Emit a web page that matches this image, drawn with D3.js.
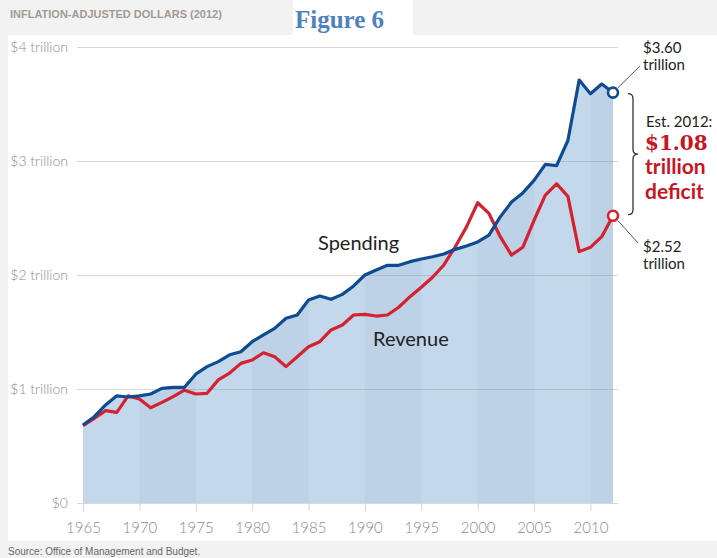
<!DOCTYPE html>
<html>
<head>
<meta charset="utf-8">
<script src="https://cdn.jsdelivr.net/npm/d3@7"></script>
<style>
  body { margin: 0; background: #f2f2f2; }
  svg { display: block; }
</style>
</head>
<body>
<div class="canvas"></div>
<script>
// values, trillions of 2012 dollars
const years = d3.range(1965, 2013)

const spending = [
  0.684, 0.757, 0.86, 0.94, 0.93, 0.94, 0.956, 1.006, 1.015, 1.015,
  1.13, 1.196, 1.24, 1.30, 1.327, 1.415, 1.474, 1.532, 1.62, 1.649,
  1.78, 1.816, 1.787, 1.83, 1.904, 2.0, 2.044, 2.085, 2.085, 2.117,
  2.14, 2.16, 2.184, 2.225, 2.254, 2.29, 2.35, 2.51, 2.64, 2.72,
  2.83, 2.97, 2.96, 3.18, 3.71, 3.59, 3.675, 3.60
]

const revenue = [
  0.678, 0.743, 0.81, 0.795, 0.94, 0.912, 0.836, 0.883, 0.933, 0.99,
  0.956, 0.962, 1.08, 1.14, 1.225, 1.254, 1.318, 1.283, 1.196, 1.283,
  1.371, 1.415, 1.518, 1.561, 1.649, 1.655, 1.64, 1.649, 1.717, 1.81,
  1.892, 1.98, 2.088, 2.245, 2.42, 2.634, 2.54, 2.336, 2.175, 2.243,
  2.48, 2.70, 2.80, 2.69, 2.205, 2.243, 2.336, 2.52
]

const yTicks = [0, 1, 2, 3, 4]
const yTickLabels = ['$0', '$1 trillion', '$2 trillion', '$3 trillion', '$4 trillion']
const xTicks = [1965, 1970, 1975, 1980, 1985, 1990, 1995, 2000, 2005, 2010]

const dims = { width: 717, height: 558 }

const svg = d3.select('.canvas').append('svg')
  .attr('width', dims.width)
  .attr('height', dims.height)

// white panel over the textured grey page
svg.append('rect')
  .attr('x', 8).attr('y', 35)
  .attr('width', dims.width - 8).attr('height', 506)
  .attr('fill', '#fff')

const x = d3.scaleLinear().domain([1965, 2012]).range([83, 613])
const y = d3.scaleLinear().domain([0, 4]).range([503, 47])

const spendData = years.map((yr, i) => ({ year: yr, value: spending[i] }))
const revData = years.map((yr, i) => ({ year: yr, value: revenue[i] }))

const area = d3.area()
  .x(d => x(d.year))
  .y0(y(0))
  .y1(d => y(d.value))

const line = d3.line()
  .x(d => x(d.year))
  .y(d => y(d.value))

// area with alternating five-year bands
svg.append('clipPath').attr('id', 'areaClip')
  .append('path').attr('d', area(spendData))

svg.append('path')
  .attr('d', area(spendData))
  .attr('fill', '#c4d8eb')

svg.append('g')
  .attr('clip-path', 'url(#areaClip)')
  .selectAll('rect')
  .data(xTicks.filter((d, i) => i % 2 === 1))
  .enter().append('rect')
  .attr('x', d => x(d))
  .attr('y', y(4))
  .attr('width', d => x(Math.min(d + 5, 2012)) - x(d))
  .attr('height', y(0) - y(4))
  .attr('fill', '#bdd1e7')

// y axis: labels + gridlines
const yAxis = d3.axisLeft(y)
  .tickValues(yTicks)
  .tickFormat((d, i) => yTickLabels[i])
  .tickSize(-(618 - 77))
  .tickPadding(9)

const gy = svg.append('g')
  .attr('transform', 'translate(77,0)')
  .call(yAxis)
gy.select('.domain').remove()
gy.selectAll('line')
  .attr('stroke', 'rgba(140,140,140,0.35)')
  .attr('stroke-width', 1.2)
gy.selectAll('text')
  .attr('fill', '#8c8c8c')
  .attr('font-family', 'Lato, sans-serif')
  .attr('font-weight', 300)
  .attr('font-size', 14)

// x axis
const xAxis = d3.axisBottom(x)
  .tickValues(xTicks)
  .tickFormat(d3.format('d'))
  .tickSize(8)
  .tickPadding(11)

const gx = svg.append('g')
  .attr('transform', `translate(0,${y(0)})`)
  .call(xAxis)
gx.select('.domain').remove()
gx.selectAll('line').attr('stroke', '#d6d6d6')
gx.selectAll('text')
  .attr('fill', '#8c8c8c')
  .attr('font-family', 'Lato, sans-serif')
  .attr('font-weight', 300)
  .attr('font-size', 15)

// lines
svg.append('path')
  .attr('d', line(revData))
  .attr('fill', 'none')
  .attr('stroke', '#d42230')
  .attr('stroke-width', 3.2)
  .attr('stroke-linejoin', 'round')

svg.append('path')
  .attr('d', line(spendData))
  .attr('fill', 'none')
  .attr('stroke', '#0f4b91')
  .attr('stroke-width', 3.2)
  .attr('stroke-linejoin', 'round')

// end points
const last = years.length - 1
const ends = [
  { year: years[last], value: spending[last], color: '#0f4b91' },
  { year: years[last], value: revenue[last], color: '#d42230' }
]

// leader lines
svg.append('line')
  .attr('x1', x(2012) + 5).attr('y1', y(spending[last]) - 5)
  .attr('x2', 640).attr('y2', 66)
  .attr('stroke', '#555').attr('stroke-width', 1)
svg.append('line')
  .attr('x1', x(2012) + 5).attr('y1', y(revenue[last]) + 5)
  .attr('x2', 638).attr('y2', 243)
  .attr('stroke', '#555').attr('stroke-width', 1)

svg.selectAll('circle.end')
  .data(ends)
  .enter().append('circle')
  .attr('class', 'end')
  .attr('cx', d => x(d.year))
  .attr('cy', d => y(d.value))
  .attr('r', 5)
  .attr('fill', '#fff')
  .attr('stroke', d => d.color)
  .attr('stroke-width', 2.6)

// brace between the two end values
const braceTop = y(spending[last]) + 1
const braceBot = y(revenue[last]) - 1
const braceMid = (braceTop + braceBot) / 2
svg.append('path')
  .attr('d', `M628,${braceTop} Q633,${braceTop} 633,${braceTop + 5} L633,${braceMid - 5} ` +
    `Q633,${braceMid} 638,${braceMid} Q633,${braceMid} 633,${braceMid + 5} ` +
    `L633,${braceBot - 5} Q633,${braceBot} 628,${braceBot}`)
  .attr('fill', 'none')
  .attr('stroke', '#333')
  .attr('stroke-width', 1.3)

// text
const txt = (str, tx, ty, opts = {}) => svg.append('text')
  .attr('x', tx).attr('y', ty)
  .attr('font-family', opts.family || 'Lato, sans-serif')
  .attr('font-size', opts.size || 15)
  .attr('font-weight', opts.weight || 400)
  .attr('fill', opts.color || '#222')
  .text(str)

txt('Spending', 318, 250, { size: 20 })
txt('Revenue', 373, 346, { size: 20 })

txt('$3.60', 643, 53)
txt('trillion', 643, 70)
txt('$2.52', 643, 252)
txt('trillion', 643, 269)

txt('Est. 2012:', 646, 127)
txt('$1.08', 645, 150, { family: '"DejaVu Serif", serif', size: 20, weight: 700, color: '#c8151f' })
txt('trillion', 645, 174, { size: 21, weight: 700, color: '#c8151f' })
txt('deficit', 645, 199, { size: 21, weight: 700, color: '#c8151f' })

// header
txt('INFLATION-ADJUSTED DOLLARS (2012)', 10, 18,
  { family: '"Liberation Sans", Arial, sans-serif', size: 11, weight: 700, color: '#a39b92' })

svg.append('rect')
  .attr('x', 293).attr('y', 0)
  .attr('width', 120).attr('height', 39)
  .attr('fill', '#fff')
txt('Figure 6', 295, 28,
  { family: '"Liberation Serif", serif', size: 25, weight: 700, color: '#4f81bd' })

txt('Source: Office of Management and Budget.', 8, 555,
  { family: '"Liberation Sans", Arial, sans-serif', size: 10, color: '#666' })
</script>
</body>
</html>
